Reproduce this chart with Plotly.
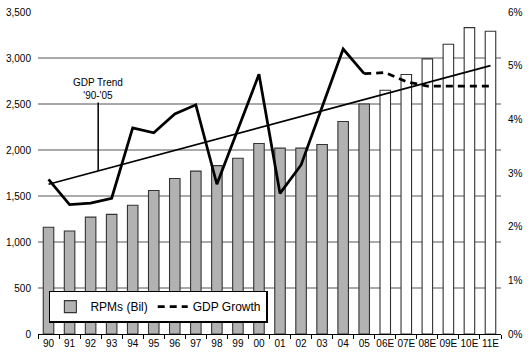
import plotly.graph_objects as go

categories = ["90", "91", "92", "93", "94", "95", "96", "97", "98", "99", "00", "01",
              "02", "03", "04", "05", "06E", "07E", "08E", "09E", "10E", "11E"]
rpms = [1160, 1120, 1270, 1300, 1400, 1560, 1690, 1770, 1830, 1910, 2070, 2020,
        2020, 2060, 2310, 2500, 2650, 2820, 2990, 3150, 3330, 3290]
n_actual = 16  # 90..05 actual, rest estimates
gdp_actual = [0.0288, 0.0241, 0.0244, 0.0253, 0.0384, 0.0375, 0.0410, 0.0427, 0.0279,
              0.0381, 0.0484, 0.0262, 0.0315, 0.0423, 0.0531, 0.0485]
gdp_forecast = [0.0485, 0.0487, 0.0470, 0.0462, 0.0462, 0.0462, 0.0462]  # 05..11E
trend_ends = [0.0279, 0.0500]  # GDP trend '90-'05 at 90 and 11E
pct_ticks = [0, 0.01, 0.02, 0.03, 0.04, 0.05, 0.06]
pct_labels = ["0%", "1%", "2%", "3%", "4%", "5%", "6%"]

font = "Liberation Sans, Arial, Helvetica, sans-serif"

fig = go.Figure()
fig.add_trace(go.Bar(
    x=categories, y=rpms, name="RPMs (Bil)", width=0.5,
    marker=dict(color=["#b2b2b2"] * n_actual + ["#ffffff"] * (len(categories) - n_actual),
                line=dict(color="#333333", width=1.1)),
    showlegend=True,
))
fig.add_trace(go.Scatter(
    x=categories[:n_actual], y=gdp_actual, yaxis="y2", mode="lines",
    line=dict(color="black", width=2.75), showlegend=False, name="GDP Growth",
))
fig.add_trace(go.Scatter(
    x=categories[n_actual - 1:], y=gdp_forecast, yaxis="y2", mode="lines",
    line=dict(color="black", width=2.75, dash="7px,5px"), name="GDP Growth",
))
fig.add_trace(go.Scatter(
    x=[categories[0], categories[-1]], y=trend_ends, yaxis="y2", mode="lines",
    line=dict(color="black", width=1.75), showlegend=False, name="GDP Trend",
))

# annotation pointing at trend line
ann_x = 2.36
ann_y = trend_ends[0] + (trend_ends[1] - trend_ends[0]) * ann_x / (len(categories) - 1)
fig.add_annotation(
    x=ann_x, y=ann_y, xref="x", yref="y2", text="GDP Trend<br>'90-'05",
    showarrow=True, arrowhead=0, arrowwidth=1.5, arrowcolor="black",
    ax=0, ay=-82, font=dict(family=font, size=10, color="black"),
)

fig.update_layout(
    width=529, height=355,
    margin=dict(l=35, r=24, t=6, b=18),
    paper_bgcolor="white", plot_bgcolor="white",
    font=dict(family=font, size=10, color="black"),
    bargap=0.5,
    xaxis=dict(type="category", showline=True, linecolor="black", linewidth=1,
               ticks="outside", tickson="boundaries", ticklen=4, tickcolor="black",
               showgrid=False, tickangle=0, tickfont=dict(size=10)),
    yaxis=dict(range=[0, 3500], dtick=500, tickformat=",", showgrid=True,
               gridcolor="#aaaaaa", gridwidth=1.5, zeroline=False, showline=False,
               ticklabelstandoff=6, tickfont=dict(size=10)),
    yaxis2=dict(range=[0, 0.06], tickvals=pct_ticks, ticktext=pct_labels, overlaying="y",
                side="right", showgrid=False, zeroline=False, showline=False,
                ticklabelstandoff=6, tickfont=dict(size=10)),
    legend=dict(orientation="h", x=0.0235, y=0.085, xanchor="left", yanchor="middle",
                bgcolor="white", bordercolor="black", borderwidth=1.5,
                font=dict(family=font, size=12, color="black"),
                traceorder="normal", itemwidth=30),
)

fig.write_html("out.html", config={"displayModeBar": False},
               post_script="document.body.style.margin='0';document.body.style.overflow='hidden';")
